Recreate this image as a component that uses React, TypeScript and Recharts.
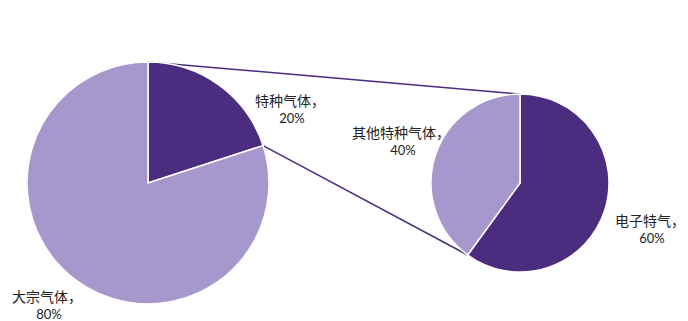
import { PieChart, Pie, Cell, Customized } from 'recharts';

const mainNames = ['特种气体', '大宗气体'];
const mainValues = [20, 80];
const subNames = ['电子特气', '其他特种气体'];
const subValues = [60, 40];

const DARK = '#4b2c7f';
const LIGHT = '#a698cd';
const CJK = '"Noto Sans CJK SC", sans-serif';
const NUM = 'Lato, "Open Sans", sans-serif';

const mainData = mainNames.map((name, i) => ({ name, value: mainValues[i] }));
const subData = subNames.map((name, i) => ({ name, value: subValues[i] }));

const MAIN = { cx: 148, cy: 183, r: 121 };
const SUB = { cx: 520, cy: 183, r: 89 };

function pointAt(c: { cx: number; cy: number; r: number }, deg: number) {
  const rad = (deg * Math.PI) / 180;
  return { x: c.cx + c.r * Math.cos(rad), y: c.cy - c.r * Math.sin(rad) };
}

const total = (arr: number[]) => arr.reduce((a, b) => a + b, 0);

function Connectors() {
  // special gas slice runs clockwise from 12 o'clock
  const mainEnd = 90 - (360 * mainValues[0]) / total(mainValues);
  const subEnd = 90 - (360 * subValues[0]) / total(subValues);
  const a1 = pointAt(MAIN, 90);
  const b1 = pointAt(SUB, 90);
  const a2 = pointAt(MAIN, mainEnd);
  const b2 = pointAt(SUB, subEnd);
  return (
    <g>
      <line x1={a1.x} y1={a1.y} x2={b1.x} y2={b1.y} stroke={DARK} strokeWidth={1.5} />
      <line x1={a2.x} y1={a2.y} x2={b2.x} y2={b2.y} stroke={DARK} strokeWidth={1.5} />
    </g>
  );
}

const labels = [
  { name: mainNames[0], value: mainValues[0], x: 290, y: 100 },
  { name: mainNames[1], value: mainValues[1], x: 47, y: 296 },
  { name: subNames[0], value: subValues[0], x: 650, y: 220 },
  { name: subNames[1], value: subValues[1], x: 401, y: 132 },
];

function Labels() {
  return (
    <g>
      {labels.map((l) => (
        <g key={l.name}>
          <text x={l.x} y={l.y} textAnchor="middle" dominantBaseline="central" fontFamily={CJK} fontSize={14} fill="#222">
            {l.name}，
          </text>
          <text x={l.x + 2} y={l.y + 18} textAnchor="middle" dominantBaseline="central" fontFamily={NUM} fontSize={13} fill="#222">
            {l.value}%
          </text>
        </g>
      ))}
    </g>
  );
}

export default function App() {
  return (
    <div style={{ position: 'absolute', left: 0, top: 0, width: 688, height: 321, background: '#fff' }}>
      <PieChart width={688} height={321} margin={{ top: 0, right: 0, bottom: 0, left: 0 }}>
        <Customized component={Connectors} />
        <Pie
          data={mainData}
          dataKey="value"
          cx={MAIN.cx}
          cy={MAIN.cy}
          outerRadius={MAIN.r}
          startAngle={90}
          endAngle={-270}
          stroke="#fff"
          strokeWidth={1.5}
          isAnimationActive={false}
        >
          <Cell fill={DARK} />
          <Cell fill={LIGHT} />
        </Pie>
        <Pie
          data={subData}
          dataKey="value"
          cx={SUB.cx}
          cy={SUB.cy}
          outerRadius={SUB.r}
          startAngle={90}
          endAngle={-270}
          stroke="#fff"
          strokeWidth={1.5}
          isAnimationActive={false}
        >
          <Cell fill={DARK} />
          <Cell fill={LIGHT} />
        </Pie>
        <Customized component={Labels} />
      </PieChart>
    </div>
  );
}
